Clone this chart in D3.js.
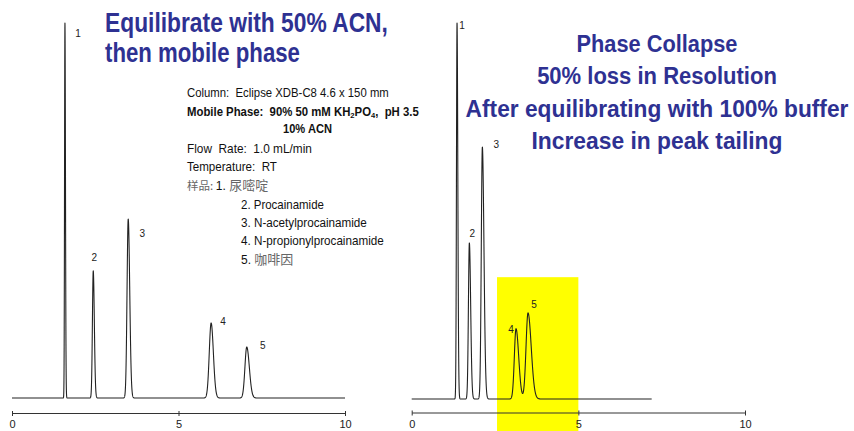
<!DOCTYPE html>
<html><head><meta charset="utf-8">
<script src="https://cdn.jsdelivr.net/npm/d3@7"></script>
<style>
html,body{margin:0;padding:0;background:#fff;}
svg{display:block;}
text{white-space:pre;}
</style></head><body>
<svg id="c" width="854" height="431"></svg>
<script>
// ---------------- data ----------------
const timeTicks = [0, 5, 10];
const peakNames = ["1", "2", "3", "4", "5"];

// Left chromatogram: equilibrated with 50% ACN, then mobile phase
const leftTimes   = [1.59, 2.44, 3.49, 5.98, 7.05];   // min
const leftHeights = [100, 33.9, 47.7, 20.0, 13.6];    // relative response
const leftWidths  = [0.012, 0.025, 0.035, 0.056, 0.055]; // sigma, min
const leftTailing = [1.3, 1.3, 1.3, 1.2, 1.4];
const leftRunEnd  = 10;

// Right chromatogram: phase collapse after 100% buffer
const rightTimes   = [1.36, 1.73, 2.12, 3.13, 3.49];
const rightHeights = [100, 41.5, 67.0, 18.7, 22.9];
const rightWidths  = [0.017, 0.028, 0.032, 0.05, 0.06];
const rightTailing = [1.4, 1.4, 1.5, 1.6, 1.6];
const rightRunEnd  = 7.2;

const highlightRange = [2.56, 5.0];  // min
const highlightTop = 32.4;           // relative response

const leftTitle  = ["Equilibrate with 50% ACN,", "then mobile phase"];
const rightTitle = ["Phase Collapse", "50% loss in Resolution",
                    "After equilibrating with 100% buffer", "Increase in peak tailing"];

// ---------------- style / layout ----------------
const NARROW = "'Liberation Sans Narrow','Arial Narrow','Liberation Sans',Arial,sans-serif";
const CJK = "'Noto Sans CJK SC','Noto Sans',sans-serif";
const BLUE = "#2e3192";
const leftLabelOffsets  = [[13, 14], [1, -10], [14, 18], [12, 2], [16, 2]];
const rightLabelOffsets = [[5, 6], [3, -6], [14, 1], [-5, 4], [6, -5]];

const svg = d3.select("#c");
svg.append("rect").attr("width", 854).attr("height", 431).attr("fill", "#fff");

const xL = d3.scaleLinear().domain([0, 10]).range([12, 345]);
const yL = d3.scaleLinear().domain([0, 100]).range([398, 23]);
const xR = d3.scaleLinear().domain([0, 10]).range([411.7, 745]);
const yR = d3.scaleLinear().domain([0, 100]).range([399, 23]);

function signal(t, times, heights, widths, tails) {
  let s = 0;
  for (let i = 0; i < times.length; i++) {
    const sg = t < times[i] ? widths[i] : widths[i] * tails[i];
    const z = (t - times[i]) / sg;
    if (Math.abs(z) < 12) s += heights[i] * Math.exp(-0.5 * z * z);
  }
  return s;
}

function drawTrace(x, y, times, heights, widths, tails, runEnd) {
  const step = 0.002;
  const pts = d3.range(0, runEnd + step / 2, step).map(t => [t, signal(t, times, heights, widths, tails)]);
  svg.append("path")
    .attr("d", d3.line().x(d => x(d[0])).y(d => y(d[1]))(pts))
    .attr("fill", "none").attr("stroke", "#222").attr("stroke-width", 1.1)
    .attr("stroke-linejoin", "round");
}

function drawLabels(x, y, times, heights, widths, tails, offsets) {
  svg.append("g").selectAll("text").data(peakNames).join("text")
    .attr("x", (d, i) => x(times[i]) + offsets[i][0])
    .attr("y", (d, i) => y(signal(times[i], times, heights, widths, tails)) + offsets[i][1])
    .attr("text-anchor", "middle")
    .attr("font-family", NARROW).attr("font-size", 10).attr("fill", "#222")
    .text(d => d);
}

function drawAxis(x, y0) {
  const g = svg.append("g").attr("transform", `translate(0,${y0})`)
    .call(d3.axisBottom(x).tickValues(timeTicks).tickSizeInner(3).tickSizeOuter(0).tickFormat(d3.format("d")));
  g.select(".domain").attr("stroke", "#333");
  g.selectAll(".tick line").attr("y1", -2).attr("stroke", "#333");
  g.selectAll(".tick text").attr("y", 15).attr("dy", null)
    .attr("font-family", NARROW).attr("font-size", 11).attr("fill", "#222");
}

// fit a text element horizontally to a target width with a scale transform
function fitText(t, x, y, width, anchor) {
  const w = t.node().getComputedTextLength();
  const sx = Math.min(1, width / w);
  t.attr("x", 0).attr("y", 0).attr("text-anchor", anchor || "start")
   .attr("transform", `translate(${x},${y}) scale(${sx},1)`);
  return t;
}

// highlight (behind the trace)
svg.append("rect")
  .attr("x", xR(highlightRange[0]))
  .attr("width", xR(highlightRange[1]) - xR(highlightRange[0]))
  .attr("y", yR(highlightTop))
  .attr("height", 431 - yR(highlightTop))
  .attr("fill", "#ffff00");

drawTrace(xL, yL, leftTimes, leftHeights, leftWidths, leftTailing, leftRunEnd);
drawTrace(xR, yR, rightTimes, rightHeights, rightWidths, rightTailing, rightRunEnd);
drawLabels(xL, yL, leftTimes, leftHeights, leftWidths, leftTailing, leftLabelOffsets);
drawLabels(xR, yR, rightTimes, rightHeights, rightWidths, rightTailing, rightLabelOffsets);
drawAxis(xL, 413);
drawAxis(xR, 412.5);

// titles
const ltLen = [283, 195], ltY = [32, 62];
leftTitle.forEach((s, i) => {
  const t = svg.append("text")
    .attr("font-family", NARROW).attr("font-weight", "bold").attr("font-size", 27)
    .attr("fill", BLUE).text(s);
  fitText(t, 105, ltY[i], ltLen[i], "start");
});
const rtLen = [161, 240, 383, 251], rtY = [52, 84, 116.5, 148.5];
rightTitle.forEach((s, i) => {
  const t = svg.append("text")
    .attr("font-family", NARROW).attr("font-weight", "bold").attr("font-size", 24)
    .attr("fill", BLUE).text(s);
  fitText(t, 657, rtY[i], rtLen[i], "middle");
});

// method info block
function info(x, y, str, len, bold) {
  const t = svg.append("text")
    .attr("font-family", NARROW).attr("font-size", 12).attr("fill", "#111")
    .attr("font-weight", bold ? "bold" : "normal").text(str);
  return fitText(t, x, y, len, "start");
}
info(187, 97, "Column:  Eclipse XDB-C8 4.6 x 150 mm", 202, false);
{
  const t = svg.append("text")
    .attr("font-family", NARROW).attr("font-size", 12).attr("fill", "#111").attr("font-weight", "bold");
  t.append("tspan").text("Mobile Phase:  90% 50 mM KH");
  t.append("tspan").attr("font-size", 8).attr("dy", 2).text("2");
  t.append("tspan").attr("dy", -2).text("PO");
  t.append("tspan").attr("font-size", 8).attr("dy", 2).text("4");
  t.append("tspan").attr("dy", -2).text(",  pH 3.5");
  fitText(t, 187, 115.5, 232, "start");
}
info(283, 133, "10% ACN", 49, true);
info(187, 152.5, "Flow  Rate:  1.0 mL/min", 125, false);
info(187, 171, "Temperature:  RT", 90, false);
{
  const t = svg.append("text").attr("x", 187).attr("y", 189.5).attr("font-size", 12).attr("fill", "#111");
  t.append("tspan").attr("font-family", CJK).attr("font-size", 11.5).attr("fill", "#666").text("样品: ");
  t.append("tspan").attr("font-family", NARROW).text("1. ");
  t.append("tspan").attr("font-family", CJK).attr("font-size", 13).attr("fill", "#666").text("尿嘧啶");
}
info(241, 208.5, "2. Procainamide", 83, false);
info(241, 227, "3. N-acetylprocainamide", 126, false);
info(241, 245, "4. N-propionylprocainamide", 143, false);
{
  const t = svg.append("text").attr("x", 241).attr("y", 264).attr("font-size", 12).attr("fill", "#111");
  t.append("tspan").attr("font-family", NARROW).text("5. ");
  t.append("tspan").attr("font-family", CJK).attr("font-size", 13).attr("fill", "#666").text("咖啡因");
}
</script>
</body></html>
